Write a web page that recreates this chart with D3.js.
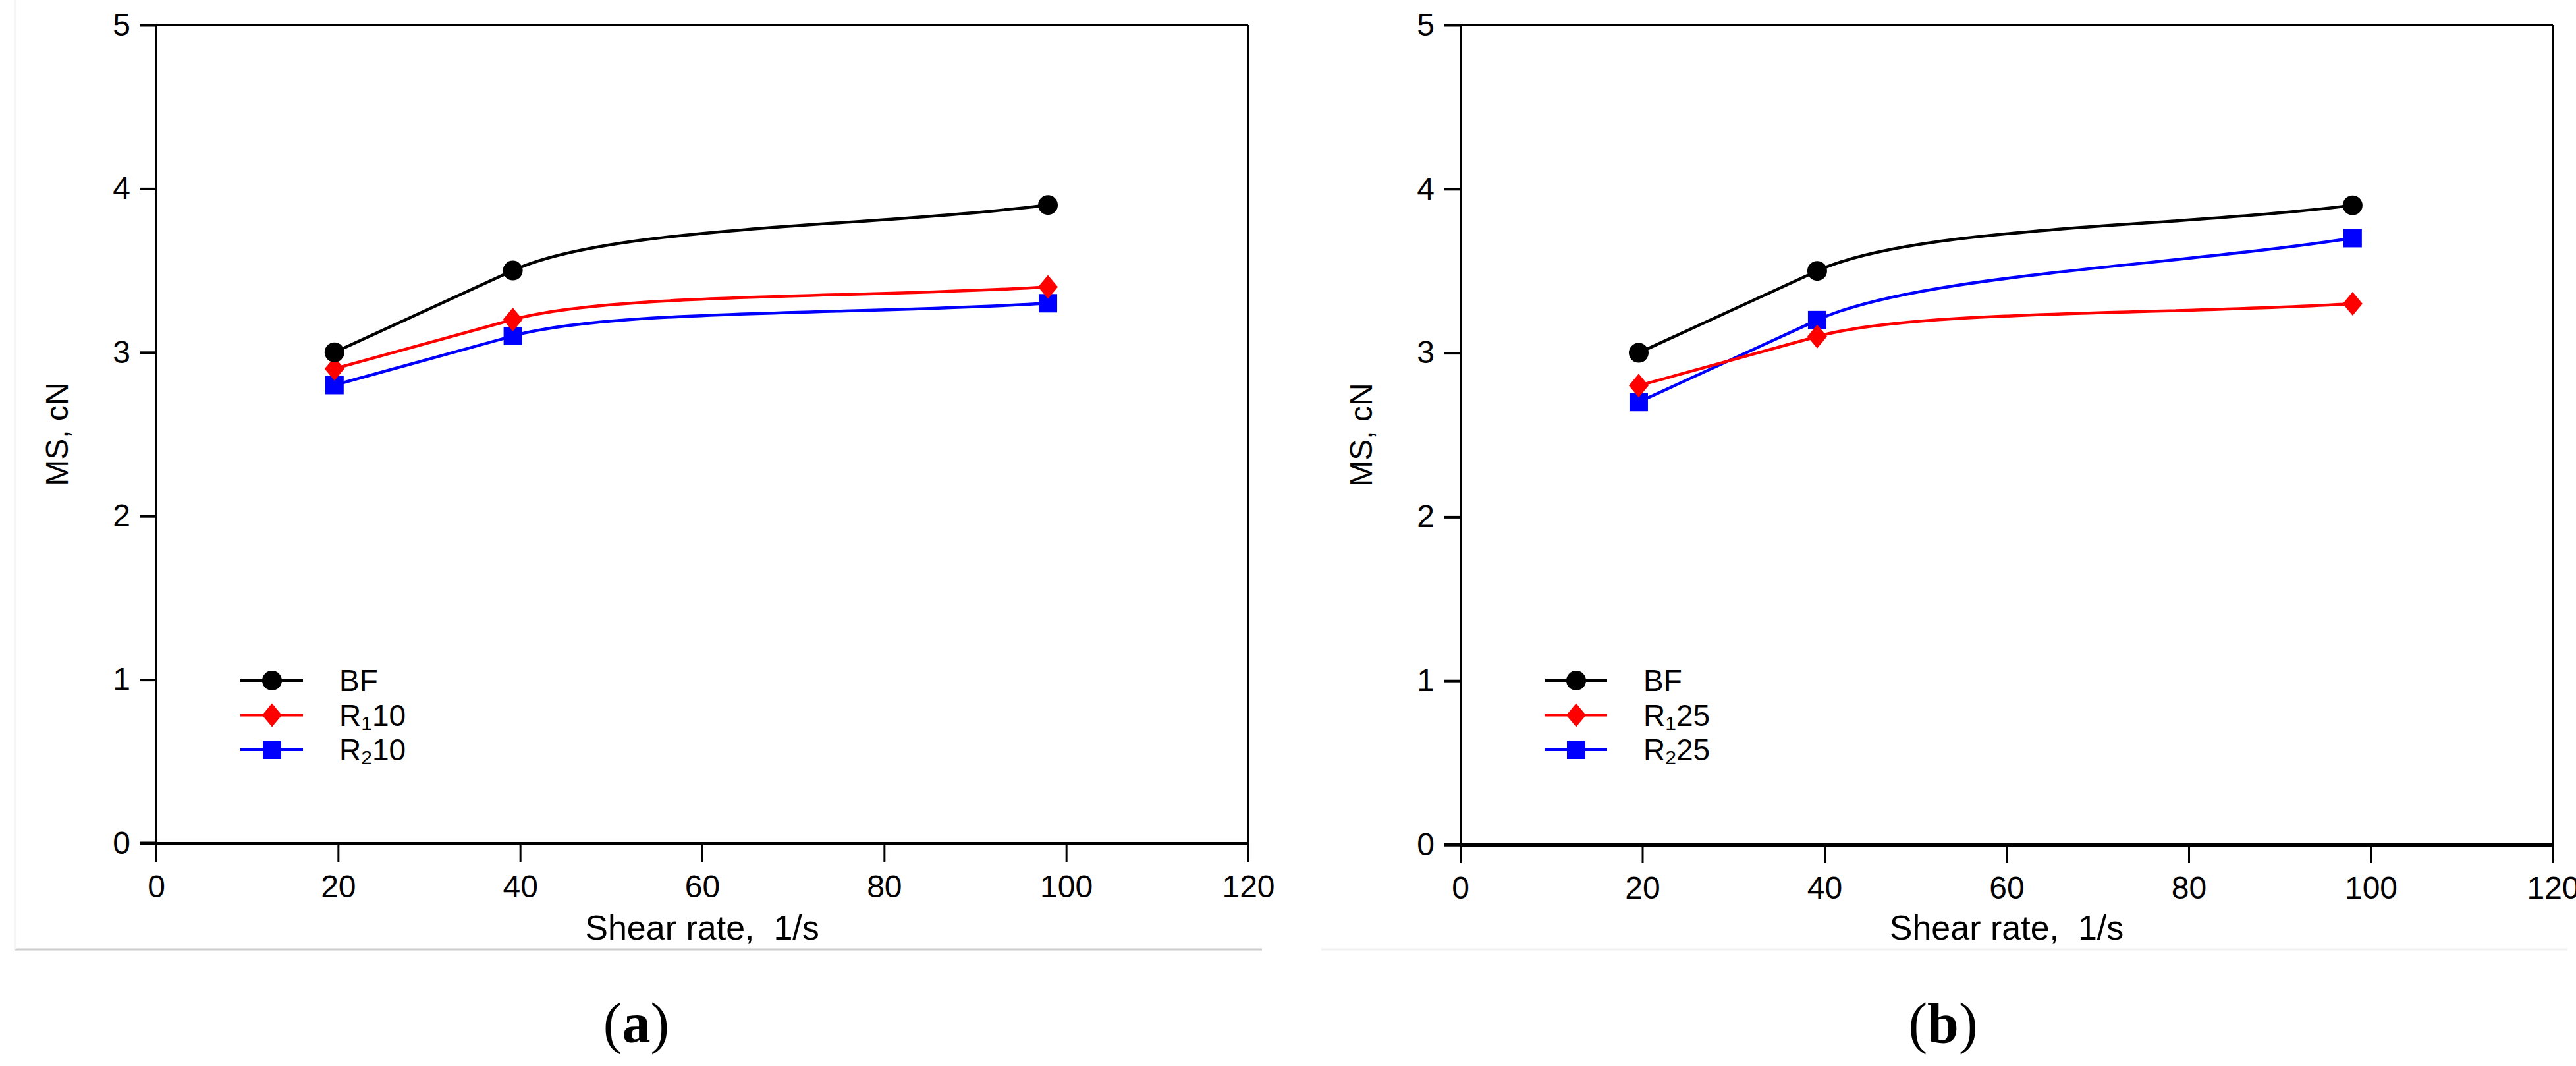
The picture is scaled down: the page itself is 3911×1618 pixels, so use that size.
<!DOCTYPE html>
<meta charset="utf-8">
<style>
body { margin: 0; background: #fff; }
text { font-family: "Liberation Sans", Arial, sans-serif; fill: #000; }
.tick text { font-size: 48px; }
.axis-title { font-size: 48px; }
.x-title { font-size: 52px; }
.legend text { font-size: 46px; }
.panel-label { font-family: "Liberation Serif", "Times New Roman", serif; font-size: 86px; }
</style>
<svg width="3911" height="1618"></svg>
<script src="https://d3js.org/d3.v7.min.js"></script>
<script>

// shear rates, 1/s
var shearRates = [19.6, 39.2, 98];

// MS, cN
var bfA = [3.0, 3.5, 3.9],
    r1A = [2.9, 3.2, 3.4],
    r2A = [2.8, 3.1, 3.3];

var bfB = [3.0, 3.5, 3.9],
    r1B = [2.8, 3.1, 3.3],
    r2B = [2.7, 3.2, 3.7];

var xTicks = [0, 20, 40, 60, 80, 100, 120],
    yTicks = [0, 1, 2, 3, 4, 5];

var panels = [
  {label: "a", left: 237, right: 1895, top: 38, bottom: 1280, labelX: 966,
   series: [
     {name: "BF", sub: "", tail: "", values: bfA, color: "#000", shape: "circle"},
     {name: "R", sub: "1", tail: "10", values: r1A, color: "#f00", shape: "diamond"},
     {name: "R", sub: "2", tail: "10", values: r2A, color: "#00f", shape: "square"}
   ]},
  {label: "b", left: 2217, right: 3876, top: 38, bottom: 1282, labelX: 2950,
   series: [
     {name: "BF", sub: "", tail: "", values: bfB, color: "#000", shape: "circle"},
     {name: "R", sub: "1", tail: "25", values: r1B, color: "#f00", shape: "diamond"},
     {name: "R", sub: "2", tail: "25", values: r2B, color: "#00f", shape: "square"}
   ]}
];

// smoothing like the plotting program: each segment leaves a point along the
// direction it arrived from, then eases into the next point along the chord
function curveCarry(context) {
  var pts;
  return {
    areaStart: function() {},
    areaEnd: function() {},
    lineStart: function() { pts = []; },
    point: function(x, y) { pts.push([+x, +y]); },
    lineEnd: function() {
      if (!pts.length) return;
      context.moveTo(pts[0][0], pts[0][1]);
      for (var i = 1; i < pts.length; i++) {
        var a = pts[i - 1], b = pts[i];
        if (i === 1) {
          context.lineTo(b[0], b[1]);
        } else {
          var p = pts[i - 2], k = 0.55, m = 0.35;
          context.bezierCurveTo(a[0] + k * (a[0] - p[0]), a[1] + k * (a[1] - p[1]),
                                b[0] - m * (b[0] - a[0]), b[1] - m * (b[1] - a[1]),
                                b[0], b[1]);
        }
      }
    }
  };
}

var svg = d3.select("svg");

// faint panel frames
svg.append("line").attr("x1", 23).attr("x2", 1916).attr("y1", 1441).attr("y2", 1441)
    .attr("stroke", "#ccc").attr("stroke-width", 3);
svg.append("line").attr("x1", 23).attr("x2", 23).attr("y1", 0).attr("y2", 1441)
    .attr("stroke", "#f5f5f5").attr("stroke-width", 3);
svg.append("line").attr("x1", 2006).attr("x2", 3898).attr("y1", 1441).attr("y2", 1441)
    .attr("stroke", "#f0f0f0").attr("stroke-width", 3);

function marker(sel, shape, color) {
  if (shape === "circle") {
    sel.append("circle").attr("r", 15).attr("fill", color);
  } else if (shape === "diamond") {
    sel.append("path").attr("d", "M0,-18L15,0L0,18L-15,0Z").attr("fill", color);
  } else {
    sel.append("rect").attr("x", -14).attr("y", -14).attr("width", 28).attr("height", 28).attr("fill", color);
  }
}

panels.forEach(function(p) {
  var g = svg.append("g");

  var x = d3.scaleLinear().domain([0, 120]).range([p.left, p.right]),
      y = d3.scaleLinear().domain([0, 5]).range([p.bottom, p.top]);

  // frame: top and right
  g.append("line").attr("x1", p.left).attr("x2", p.right).attr("y1", p.top).attr("y2", p.top)
      .attr("stroke", "#000").attr("stroke-width", 4);
  g.append("line").attr("x1", p.right).attr("x2", p.right).attr("y1", p.top).attr("y2", p.bottom)
      .attr("stroke", "#000").attr("stroke-width", 3);

  var yAxis = g.append("g")
      .attr("transform", "translate(" + p.left + ",0)")
      .call(d3.axisLeft(y).tickValues(yTicks).tickFormat(d3.format("d"))
        .tickSize(25).tickSizeOuter(0).tickPadding(14));
  yAxis.select(".domain").attr("stroke-width", 3);
  yAxis.selectAll(".tick line").attr("stroke-width", 4);

  var xAxis = g.append("g")
      .attr("transform", "translate(0," + p.bottom + ")")
      .call(d3.axisBottom(x).tickValues(xTicks).tickFormat(d3.format("d"))
        .tickSize(28).tickSizeOuter(0).tickPadding(20));
  xAxis.select(".domain").attr("stroke-width", 5);
  xAxis.selectAll(".tick line").attr("stroke-width", 3);
  xAxis.selectAll("text").attr("font-family", null).attr("font-size", null);
  yAxis.selectAll("text").attr("font-family", null).attr("font-size", null);

  // y=0 tick spans past the left axis
  g.append("line").attr("x1", p.left - 25).attr("x2", p.left).attr("y1", y(0)).attr("y2", y(0))
      .attr("stroke", "#000").attr("stroke-width", 5);

  g.append("text").attr("class", "x-title")
      .attr("x", (p.left + p.right) / 2).attr("y", 1426)
      .attr("text-anchor", "middle")
      .attr("xml:space", "preserve")
      .text("Shear rate,  1/s");

  g.append("text").attr("class", "axis-title")
      .attr("transform", "translate(" + (p.left - 134) + "," + ((p.top + p.bottom) / 2) + ") rotate(-90)")
      .attr("text-anchor", "middle")
      .text("MS, cN");

  var line = d3.line()
      .x(function(d, i) { return x(shearRates[i]); })
      .y(function(d) { return y(d); })
      .curve(curveCarry);

  // draw so that black ends up on top
  p.series.slice().reverse().forEach(function(s) {
    g.append("path")
        .attr("d", line(s.values))
        .attr("fill", "none")
        .attr("stroke", s.color)
        .attr("stroke-width", 4.5);
    s.values.forEach(function(v, i) {
      var m = g.append("g").attr("transform", "translate(" + x(shearRates[i]) + "," + y(v) + ")");
      marker(m, s.shape, s.color);
    });
  });

  // legend
  var legend = g.append("g").attr("class", "legend");
  var lx = p.left + 128;
  p.series.forEach(function(s, i) {
    var ly = 1033 + i * 52.5;
    var row = legend.append("g").attr("transform", "translate(" + lx + "," + ly + ")");
    row.append("line").attr("x1", 0).attr("x2", 95).attr("y1", 0).attr("y2", 0)
        .attr("stroke", s.color).attr("stroke-width", 4);
    marker(row.append("g").attr("transform", "translate(48,0)"), s.shape, s.color);
    var t = row.append("text").attr("x", 150).attr("y", 16);
    t.append("tspan").text(s.name);
    if (s.sub) {
      t.append("tspan").attr("font-size", 30).attr("dy", 6).text(s.sub);
      t.append("tspan").attr("dy", -6).text(s.tail);
    }
  });

  var lab = svg.append("text").attr("class", "panel-label")
      .attr("x", p.labelX).attr("y", 1582).attr("text-anchor", "middle");
  lab.append("tspan").text("(");
  lab.append("tspan").attr("font-weight", "bold").text(p.label);
  lab.append("tspan").text(")");
});

</script>
